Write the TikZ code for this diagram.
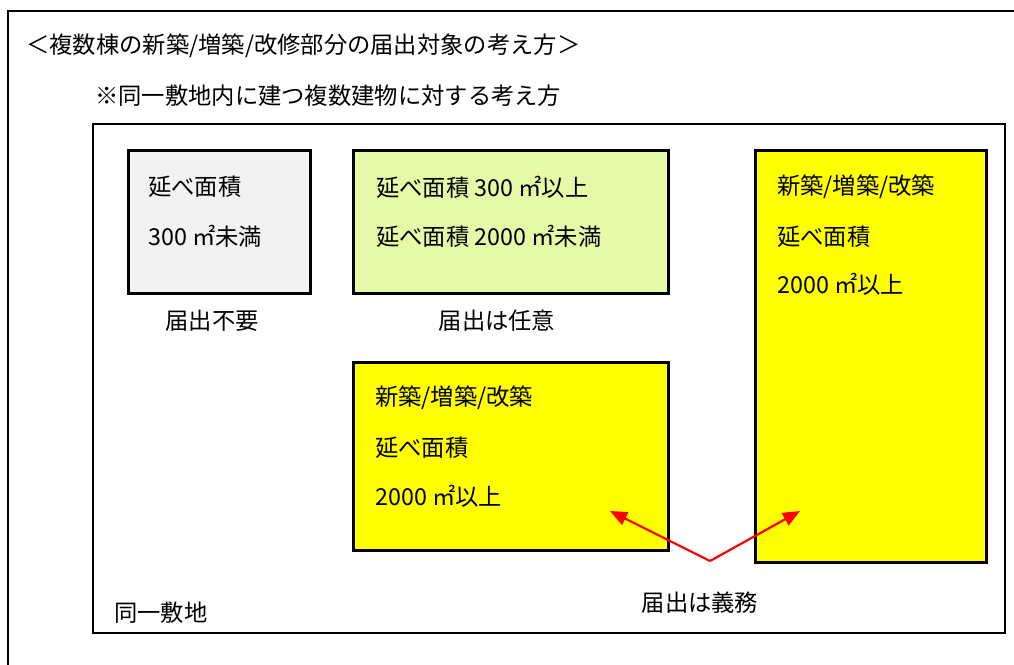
\documentclass[tikz,border=0pt]{standalone}
\usepackage{fontspec}
\setmainfont{Noto Sans CJK JP}
\usetikzlibrary{arrows.meta}
\definecolor{greybox}{HTML}{F2F2F2}
\definecolor{greenbox}{HTML}{E6F9A6}
\definecolor{yellowbox}{HTML}{FFFF00}
\definecolor{arrowred}{HTML}{FF0000}
\tikzset{
  areabox/.style={draw=black, line width=3pt, rectangle, inner sep=0pt},
  txt/.style={anchor=west, inner sep=0pt, font=\fontsize{23.3}{27}\selectfont},
  ctxt/.style={anchor=center, inner sep=0pt, font=\fontsize{23.3}{27}\selectfont},
  frame/.style={draw=black, line width=1.5pt, rectangle, inner sep=0pt},
  duty/.style={draw=arrowred, line width=2.2pt, -{Triangle[length=17pt,width=14pt]}}
}
\begin{document}
\begin{tikzpicture}[x=1pt,y=-1pt]
\useasboundingbox (0,0) rectangle (1014,664);
\clip (0,0) rectangle (1014,664);
\fill[white] (0,0) rectangle (1014,664);
% outer frame (right and bottom edges lie outside the picture)
\draw[line width=1.5pt] (1030,11) -- (8,11) -- (8,680);
\node[txt] (title) at (26,46) {＜複数棟の新築/増築/改修部分の届出対象の考え方＞};
\node[txt] (sub) at (95,96) {※同一敷地内に建つ複数建物に対する考え方};
% inner frame
\node[frame, minimum width=912pt, minimum height=509pt] (site) at (549,378.5) {};
\node[txt] (sitelbl) at (114,613) {同一敷地};
% boxes
\node[areabox, fill=greybox, minimum width=182pt, minimum height=143pt] (b1) at (219,221.5) {};
\node[areabox, fill=greenbox, minimum width=315pt, minimum height=143pt] (b2) at (510.5,221.5) {};
\node[areabox, fill=yellowbox, minimum width=315pt, minimum height=188pt] (b3) at (510.5,456) {};
\node[areabox, fill=yellowbox, minimum width=231pt, minimum height=412pt] (b4) at (870.5,356) {};
% box texts
\node[txt] (b1a) at (148,187) {延べ面積};
\node[txt] (b1b) at (148,236) {300 ㎡未満};
\node[ctxt] (b1l) at (212,321) {届出不要};
\node[txt] (b2a) at (376,187) {延べ面積 300 ㎡以上};
\node[txt] (b2b) at (376,236) {延べ面積 2000 ㎡未満};
\node[ctxt] (b2l) at (497,321) {届出は任意};
\node[txt] (b3a) at (375,398) {新築/増築/改築};
\node[txt] (b3b) at (375,448) {延べ面積};
\node[txt] (b3c) at (375,496) {2000 ㎡以上};
\node[txt] (b4a) at (777,187) {新築/増築/改築};
\node[txt] (b4b) at (777,237) {延べ面積};
\node[txt] (b4c) at (777,284) {2000 ㎡以上};
% duty arrows
\node[ctxt] (dutylbl) at (700,603) {届出は義務};
\coordinate (apex) at (710,561);
\coordinate (tipL) at (610,511);
\coordinate (tipR) at (800,511);
\draw[duty] (apex) -- (tipL);
\draw[duty] (apex) -- (tipR);
\end{tikzpicture}
\end{document}
